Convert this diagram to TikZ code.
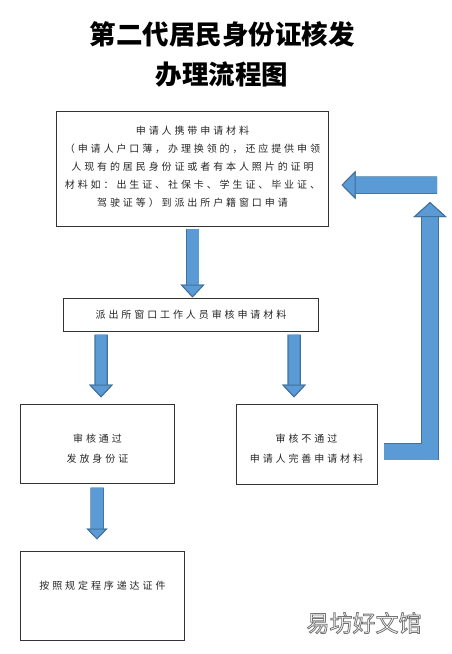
\documentclass[tikz,border=0pt]{standalone}
\usepackage{fontspec}
\usetikzlibrary{arrows.meta}
\newfontfamily\cjk{Noto Sans CJK SC}
\newfontfamily\cjksp[LetterSpace=29]{Noto Sans CJK SC}
\definecolor{arrowblue}{HTML}{5B9BD5}
\definecolor{arrowedge}{HTML}{41719C}
\definecolor{boxline}{HTML}{333333}
\begin{document}
\begin{tikzpicture}[x=1bp, y=-1bp,
    boxtext/.style={align=center, text=black!85, font=\cjksp\fontsize{10bp}{20bp}\selectfont},
    stepbox/.style={draw=boxline, line width=1bp, inner sep=0pt, boxtext},
    flowarrow/.style={draw=arrowblue, line width=12bp,
      -{Triangle[width=24bp 0 0, length=13bp 0 0, line width=1bp 0 0, color=arrowedge, fill=arrowblue]},
      preaction={draw=arrowedge, line width=13.5bp}},
    backarrow/.style={draw=arrowblue, line width=16bp, line join=miter,
      -{Triangle[width=33bp 0 0, length=15bp 0 0, line width=1bp 0 0, color=arrowedge, fill=arrowblue]},
      preaction={draw=arrowedge, line width=17.5bp}}]
    \useasboundingbox (0,0) rectangle (452,654);
    % title
    \node[align=center, font=\cjk\bfseries\fontsize{26.5bp}{40bp}\selectfont] (title) at (222,54)
      {第二代居民身份证核发\\办理流程图};
    % boxes
    \node[stepbox, minimum width=271bp, minimum height=114bp, text depth=6bp,
      font=\cjksp\fontsize{10bp}{18bp}\selectfont] (apply) at (192.5,169)
      {申请人携带申请材料\\（申请人户口薄，办理换领的，还应提供申领\\人现有的居民身份证或者有本人照片的证明\\材料如：出生证、社保卡、学生证、毕业证、\\驾驶证等）到派出所户籍窗口申请};
    \node[stepbox, minimum width=254bp, minimum height=33bp] (check) at (191,314.5) {派出所窗口工作人员审核申请材料};
    \node[stepbox, minimum width=153bp, minimum height=79bp,
      label={[boxtext, yshift=-5bp]center:审核通过\\发放身份证}] (pass) at (97.5,443.5) {};
    \node[stepbox, minimum width=141bp, minimum height=80bp,
      label={[boxtext, yshift=-4.5bp]center:审核不通过\\申请人完善申请材料}] (fail) at (306.5,444) {};
    \node[stepbox, minimum width=163bp, minimum height=89bp, text depth=20bp] (deliver) at (102.5,595.5) {按照规定程序递达证件};
    % watermark
    \node[text=gray!70, font=\cjk\fontsize{23bp}{23bp}\selectfont] (mark) at (364,623)
      {\special{pdf:code q 1 Tr 0.8 w 0.45 G}易坊好文馆\special{pdf:code Q}};
    % arrows
    \draw[flowarrow] ([yshift=-2bp]apply.south) -- (apply.south |- check.north);
    \draw[flowarrow, line width=11bp] ([xshift=-90bp, yshift=-3bp]check.south) -- ([xshift=3.5bp, yshift=6bp]pass.north);
    \draw[flowarrow, line width=11bp] ([xshift=103bp, yshift=-3bp]check.south) -- ([xshift=-12.5bp, yshift=6bp]fail.north);
    \draw[flowarrow, -{Triangle[width=21bp 0 0, length=11bp 0 0, line width=1bp 0 0, color=arrowedge, fill=arrowblue]}]
      ([xshift=-0.5bp, yshift=-4bp]pass.south) -- ([xshift=-5.5bp, yshift=11bp]deliver.north);
    \coordinate (up) at (430,202);
    \coordinate (back) at (437,185);
    \draw[backarrow] ([xshift=6bp, yshift=-7.5bp]fail.east) -| (up);
    \draw[backarrow, -{Triangle[width=28bp 0 0, length=14bp 0 0, line width=1bp 0 0, color=arrowedge, fill=arrowblue]}]
      (back) -- ([xshift=13bp, yshift=-16bp]apply.east);
\end{tikzpicture}
\end{document}
